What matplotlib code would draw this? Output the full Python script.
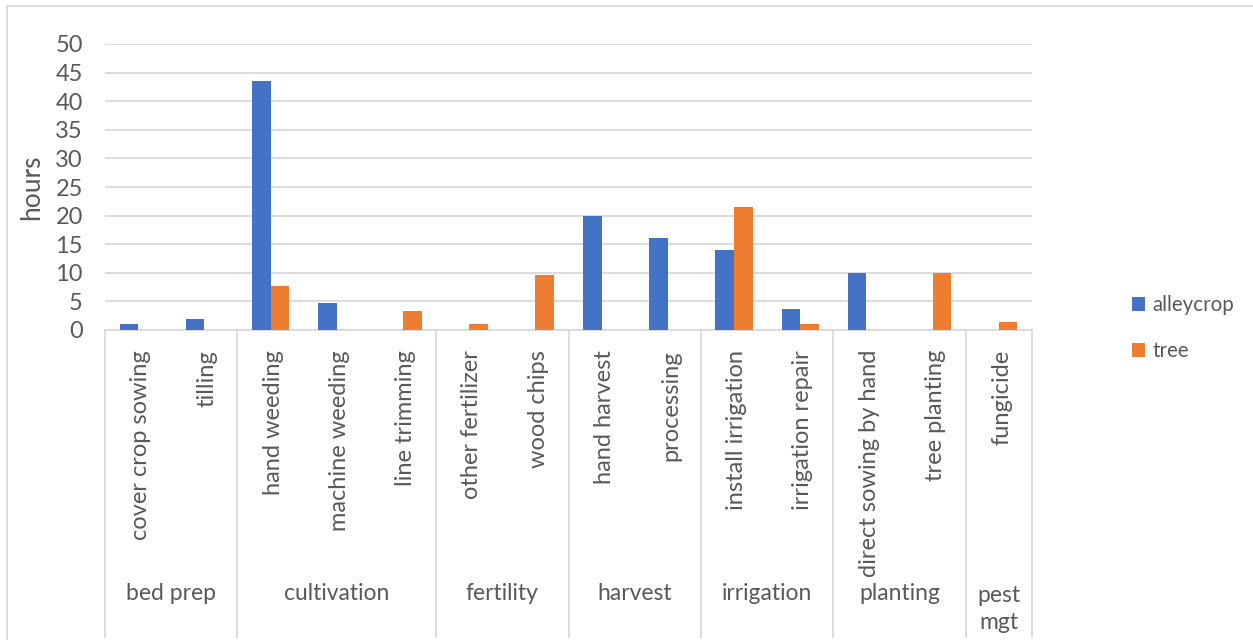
import matplotlib
matplotlib.use("Agg")
import matplotlib.pyplot as plt
import matplotlib.transforms as mtransforms
import numpy as np

plt.rcParams['font.family'] = ['Lato', 'DejaVu Sans']

groups = ["bed prep", "cultivation", "fertility", "harvest", "irrigation", "planting", "pest\nmgt"]
group_sizes = [2, 3, 2, 2, 2, 2, 1]
tasks = ["cover crop sowing", "tilling",
         "hand weeding", "machine weeding", "line trimming",
         "other fertilizer", "wood chips",
         "hand harvest", "processing",
         "install irrigation", "irrigation repair",
         "direct sowing by hand", "tree planting",
         "fungicide"]
alleycrop = [1.0, 2.0, 43.6, 4.7, 0, 0, 0, 20.0, 16.0, 14.0, 3.7, 10.0, 0, 0]
tree = [0, 0, 7.7, 0, 3.4, 1.0, 9.7, 0, 0, 21.5, 1.1, 0, 10.0, 1.4]

W, H = 1253, 640
TXT = "#595959"
GRID = "#d9d9d9"

fig = plt.figure(figsize=(W / 100, H / 100), dpi=100)
ax = fig.add_axes([105 / W, 1 - 330 / H, 927 / W, (330 - 44) / H])

x = np.arange(len(tasks))
bw = 0.28
ax.bar(x - bw / 2, alleycrop, bw, color="#4472C4", label="alleycrop", zorder=3)
ax.bar(x + bw / 2, tree, bw, color="#ED7D31", label="tree", zorder=3)

ax.set_xlim(-0.5, len(tasks) - 0.5)
ax.set_ylim(0, 50)
ax.set_yticks(range(0, 51, 5))
ax.yaxis.grid(True, color=GRID, linewidth=1.3, zorder=0)
ax.tick_params(axis="y", length=0, labelsize=17, labelcolor=TXT, pad=16)
ax.set_xticks([])
for s in ["top", "right", "left"]:
    ax.spines[s].set_visible(False)
ax.spines["bottom"].set_color(GRID)
ax.spines["bottom"].set_linewidth(1.3)
ax.set_ylabel("hours", fontsize=19, color=TXT, labelpad=8)

# multi-level category axis
trans = mtransforms.blended_transform_factory(ax.transData, fig.transFigure)
for i, t in enumerate(tasks):
    ax.text(i + 0.04, 1 - 350 / H, t, transform=trans, rotation=90, ha="center", va="top",
            fontsize=17, color=TXT)

bounds = np.concatenate([[0], np.cumsum(group_sizes)]) - 0.5
for b in bounds:
    ax.plot([b, b], [1 - 330 / H, 1 - 637 / H], transform=trans, color=GRID,
            linewidth=1.3, clip_on=False)
for g, lo, hi in zip(groups, bounds[:-1], bounds[1:]):
    ypix = 609 if "\n" in g else 593
    ax.text((lo + hi) / 2, 1 - ypix / H, g, transform=trans, ha="center", va="center",
            fontsize=16.5, color=TXT, linespacing=1.4)

leg = fig.legend(loc="upper left", bbox_to_anchor=(1113 / W, 1 - 277 / H), frameon=False,
                 fontsize=14.8, labelcolor=TXT, handlelength=0.65, handleheight=0.65,
                 handletextpad=0.35, labelspacing=1.25)

# chart border
fig.add_artist(plt.Rectangle((7 / W, -0.01), 1.02, 1 - 6 / H + 0.01, transform=fig.transFigure,
                             fill=False, edgecolor=GRID, linewidth=1.3))

fig.savefig("out.png", dpi=100)
